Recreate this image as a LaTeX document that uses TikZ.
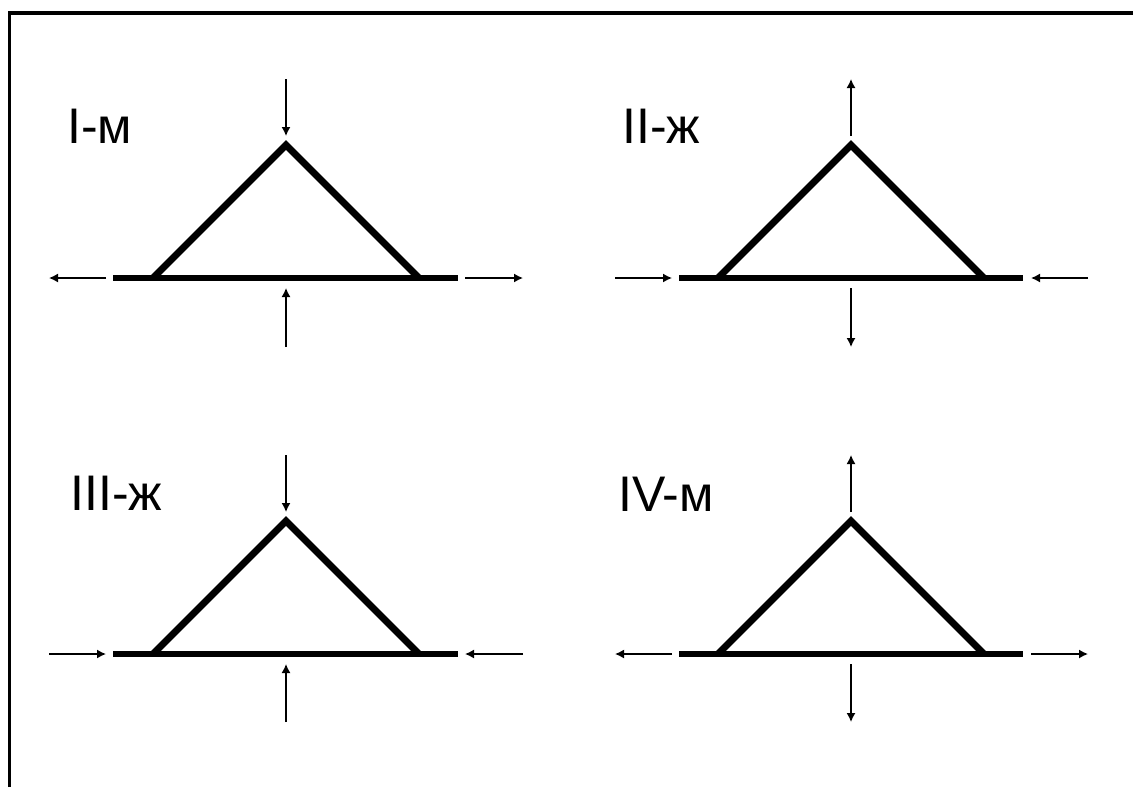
\documentclass[tikz,border=0pt]{standalone}
\usepackage{fontspec}
\setmainfont{Liberation Sans}
\usetikzlibrary{arrows.meta}

\tikzset{
  leg/.style={line width=3.4pt, line join=miter},
  base/.style={line width=3.2pt},
  force/.style={line width=0.7pt, -{Latex[length=4.5pt,width=4.5pt]}},
  typelabel/.style={font=\fontsize{25}{30}\selectfont, anchor=base west, inner sep=0pt}
}

\begin{document}
\begin{tikzpicture}[x=0.5pt,y=-0.5pt]
\useasboundingbox (0,0) rectangle (1133,787);
\draw[line width=1.6pt] (9.5,787) -- (9.5,13) -- (1133,13);

% I
\coordinate (IA) at (286,145);
\coordinate (IL) at (153,278);
\coordinate (IR) at (419,278);
\coordinate (IB1) at (113,278);
\coordinate (IB2) at (458,278);
\draw[leg] (IL) -- (IA) -- (IR);
\draw[base] (IB1) -- (IB2);
\coordinate (It1) at (286,79);
\coordinate (It2) at (286,136);
\coordinate (Ib1) at (286,347);
\coordinate (Ib2) at (286,288);
\coordinate (Il1) at (106,278);
\coordinate (Il2) at (49,278);
\coordinate (Ir1) at (465,278);
\coordinate (Ir2) at (523,278);
\draw[force] (It1) -- (It2);
\draw[force] (Ib1) -- (Ib2);
\draw[force] (Il1) -- (Il2);
\draw[force] (Ir1) -- (Ir2);
\node[typelabel] (Ilab) at (67,143) {I-м};

% II
\coordinate (IIA) at (851,145);
\coordinate (IIL) at (718,278);
\coordinate (IIR) at (984,278);
\coordinate (IIB1) at (679,278);
\coordinate (IIB2) at (1023,278);
\draw[leg] (IIL) -- (IIA) -- (IIR);
\draw[base] (IIB1) -- (IIB2);
\coordinate (IIt1) at (851,136);
\coordinate (IIt2) at (851,79);
\coordinate (IIb1) at (851,288);
\coordinate (IIb2) at (851,347);
\coordinate (IIl1) at (615,278);
\coordinate (IIl2) at (672,278);
\coordinate (IIr1) at (1088,278);
\coordinate (IIr2) at (1031,278);
\draw[force] (IIt1) -- (IIt2);
\draw[force] (IIb1) -- (IIb2);
\draw[force] (IIl1) -- (IIl2);
\draw[force] (IIr1) -- (IIr2);
\node[typelabel] (IIlab) at (622,143) {II-ж};

% III
\coordinate (IIIA) at (286,521);
\coordinate (IIIL) at (153,654);
\coordinate (IIIR) at (419,654);
\coordinate (IIIB1) at (113,654);
\coordinate (IIIB2) at (458,654);
\draw[leg] (IIIL) -- (IIIA) -- (IIIR);
\draw[base] (IIIB1) -- (IIIB2);
\coordinate (IIIt1) at (286,455);
\coordinate (IIIt2) at (286,512);
\coordinate (IIIb1) at (286,722);
\coordinate (IIIb2) at (286,664);
\coordinate (IIIl1) at (49,654);
\coordinate (IIIl2) at (106,654);
\coordinate (IIIr1) at (523,654);
\coordinate (IIIr2) at (465,654);
\draw[force] (IIIt1) -- (IIIt2);
\draw[force] (IIIb1) -- (IIIb2);
\draw[force] (IIIl1) -- (IIIl2);
\draw[force] (IIIr1) -- (IIIr2);
\node[typelabel] (IIIlab) at (70,510) {III-ж};

% IV
\coordinate (IVA) at (851,521);
\coordinate (IVL) at (718,654);
\coordinate (IVR) at (984,654);
\coordinate (IVB1) at (679,654);
\coordinate (IVB2) at (1023,654);
\draw[leg] (IVL) -- (IVA) -- (IVR);
\draw[base] (IVB1) -- (IVB2);
\coordinate (IVt1) at (851,512);
\coordinate (IVt2) at (851,455);
\coordinate (IVb1) at (851,664);
\coordinate (IVb2) at (851,722);
\coordinate (IVl1) at (672,654);
\coordinate (IVl2) at (615,654);
\coordinate (IVr1) at (1031,654);
\coordinate (IVr2) at (1088,654);
\draw[force] (IVt1) -- (IVt2);
\draw[force] (IVb1) -- (IVb2);
\draw[force] (IVl1) -- (IVl2);
\draw[force] (IVr1) -- (IVr2);
\node[typelabel] (IVlab) at (618,511) {IV-м};

\end{tikzpicture}
\end{document}
